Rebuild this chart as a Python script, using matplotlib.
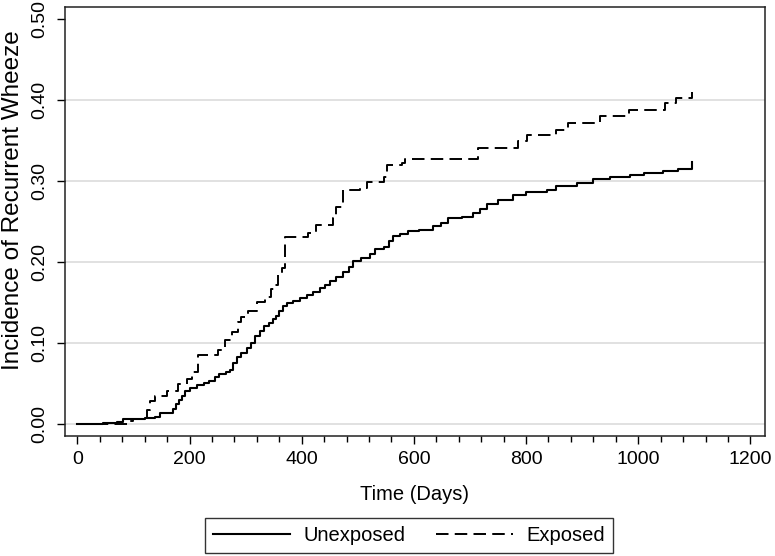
import matplotlib
matplotlib.use("Agg")
import matplotlib.pyplot as plt
import numpy as np

plt.rcParams['font.family'] = ['Liberation Sans', 'DejaVu Sans']
plt.rcParams['lines.scale_dashes'] = False

# Unexposed (solid) cumulative incidence: event days and values
unexp_days = [0, 45, 70, 82, 121, 138, 147, 159, 170, 176, 181, 186, 192, 200, 213, 225,
              235, 245, 252, 265, 272, 278, 284, 292, 302, 310, 317, 326, 333, 341, 348,
              355, 360, 366, 373, 385, 397, 410, 421, 432, 441, 450, 462, 474, 484, 492,
              505, 522, 530, 546, 556, 563, 575, 590, 610, 634, 648, 661, 685, 706, 718,
              730, 750, 777, 800, 837, 854, 890, 920, 950, 985, 1010, 1045, 1070, 1095, 1096]
unexp_vals = [0.000, 0.001, 0.002, 0.006, 0.007, 0.008, 0.013, 0.014, 0.018, 0.024, 0.030,
              0.035, 0.040, 0.044, 0.048, 0.051, 0.053, 0.058, 0.062, 0.064, 0.066, 0.075,
              0.083, 0.088, 0.094, 0.100, 0.108, 0.115, 0.121, 0.125, 0.129, 0.133, 0.139,
              0.145, 0.149, 0.152, 0.156, 0.159, 0.163, 0.168, 0.172, 0.177, 0.181, 0.187,
              0.194, 0.201, 0.205, 0.210, 0.216, 0.219, 0.226, 0.232, 0.235, 0.238, 0.240,
              0.244, 0.248, 0.254, 0.256, 0.260, 0.266, 0.272, 0.277, 0.283, 0.286, 0.289,
              0.294, 0.297, 0.303, 0.305, 0.307, 0.310, 0.313, 0.315, 0.316, 0.324]

# Exposed (dashed)
exp_days = [0, 94, 100, 124, 130, 138, 159, 180, 195, 204, 216, 251, 263, 275, 286, 292,
            305, 320, 335, 346, 352, 358, 364, 370, 412, 425, 456, 462, 474, 504, 516,
            546, 552, 578, 584, 714, 786, 801, 853, 875, 932, 984, 1048, 1068, 1095, 1096]
exp_vals = [0.000, 0.003, 0.006, 0.017, 0.028, 0.035, 0.041, 0.049, 0.055, 0.064, 0.085,
            0.091, 0.104, 0.114, 0.126, 0.132, 0.139, 0.150, 0.157, 0.167, 0.172, 0.184,
            0.192, 0.231, 0.236, 0.246, 0.254, 0.268, 0.289, 0.291, 0.299, 0.305, 0.320,
            0.322, 0.327, 0.341, 0.350, 0.357, 0.363, 0.372, 0.380, 0.388, 0.396, 0.402,
            0.402, 0.410]

series_labels = ["Unexposed", "Exposed"]
x_ticks = [0, 200, 400, 600, 800, 1000, 1200]
y_ticks = [0.0, 0.1, 0.2, 0.3, 0.4, 0.5]

W, H = 775, 556
fig = plt.figure(figsize=(W / 100, H / 100), dpi=100)
ax = fig.add_axes([65 / W, 1 - 436 / H, (765 - 65) / W, (436 - 7) / H])

ax.step(unexp_days, unexp_vals, where='post', color='black', lw=1.5,
        label=series_labels[0])
ax.step(exp_days, exp_vals, where='post', color='black', lw=1.4,
        linestyle=(0, (9, 4.5)), label=series_labels[1])

ax.set_xlim(-22, 1226)
ax.set_ylim(-0.015, 0.515)

ax.set_xticks(x_ticks)
ax.set_xticks(np.arange(0, 1201, 40), minor=True)
ax.set_yticks(y_ticks)
ax.set_yticklabels([f"{v:.2f}" for v in y_ticks], rotation=90, va='center')
ax.tick_params(axis='x', which='major', length=6, width=1, labelsize=14, pad=5)
ax.tick_params(axis='x', which='minor', length=4, width=1)
ax.tick_params(axis='y', which='major', length=6, width=1, labelsize=14, pad=6)

ax.grid(axis='y', color='#dcdcdc', lw=1.2)
ax.set_axisbelow(True)
ax.yaxis.get_gridlines()[-1].set_visible(False)

for s in ax.spines.values():
    s.set_color('#222222')
    s.set_linewidth(1.1)

ax.set_xlabel("Time (Days)", fontsize=14.5)
ax.xaxis.set_label_coords(0.5, -0.115)
ax.set_ylabel("Incidence of Recurrent Wheeze", fontsize=17.5)
ax.yaxis.set_label_coords(-0.059, 0.55)

leg = fig.legend(loc='upper center', bbox_to_anchor=(409 / W, 1 - 518 / H), ncol=2,
                 fontsize=14.5, frameon=True, fancybox=False, handlelength=3.85,
                 handletextpad=0.65, columnspacing=1.5, borderpad=0.4,
                 borderaxespad=0)
leg.get_frame().set_edgecolor('black')
leg.get_frame().set_linewidth(1.0)

fig.savefig("out.png", dpi=100)
